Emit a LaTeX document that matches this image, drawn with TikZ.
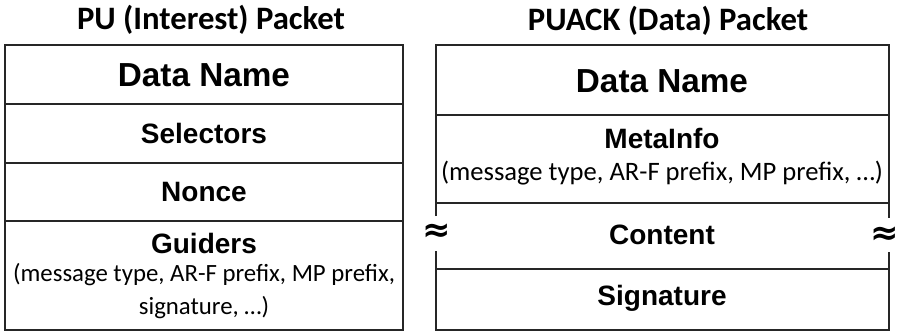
\documentclass[tikz,border=0pt]{standalone}
\usepackage{fontspec}
\setmainfont{Liberation Sans}
\newfontfamily\calib{Carlito}
\newfontfamily\dejavu{DejaVu Sans}
\begin{document}
\begin{tikzpicture}[x=1pt,y=-1pt,
  frame/.style={draw=black!85,line width=1.5pt},
  title/.style={font=\calib\bfseries\fontsize{32.7}{36}\selectfont,inner sep=0pt},
  field/.style={font=\bfseries\fontsize{28}{32}\selectfont,inner sep=0pt},
  bigfield/.style={font=\bfseries\fontsize{33.3}{36}\selectfont,inner sep=0pt},
  note/.style={font=\calib\fontsize{24.8}{28}\selectfont,inner sep=0pt},
  bignote/.style={font=\calib\fontsize{26.6}{30}\selectfont,inner sep=0pt},
  wavy/.style={font=\dejavu\bfseries\fontsize{34}{38}\selectfont,inner sep=0pt}]
\useasboundingbox (0,0) rectangle (899,332);

% ---- PU (Interest) packet ----
\node[title] (t1) at (211,20) {PU (Interest) Packet};
\draw[frame] (5,45) rectangle (403,330);
\draw[frame] (5,104) -- (403,104);
\draw[frame] (5,163) -- (403,163);
\draw[frame] (5,221) -- (403,221);
\node[bigfield] (dn1) at (204,75) {Data Name};
\node[field] (sel) at (204,133) {Selectors};
\node[field] (non) at (204,192) {Nonce};
\node[field] (gui) at (204,243) {Guiders};
\node[note] (g1) at (204,275) {(message type, AR-F prefix, MP prefix,};
\node[note] (g2) at (204,308) {signature, …)};

% ---- PUACK (Data) packet ----
\node[title] (t2) at (668,21) {PUACK (Data) Packet};
\draw[frame] (436,216) -- (436,45) -- (889,45) -- (889,218);
\draw[frame] (436,251) -- (436,330) -- (889,330) -- (889,252);
\draw[frame] (436,115) -- (889,115);
\draw[frame] (436,203) -- (889,203);
\draw[frame] (436,269) -- (889,269);
\node[bigfield] (dn2) at (662,81) {Data Name};
\node[field] (meta) at (662,138) {MetaInfo};
\node[bignote] (m1) at (662,173) {(message type, AR-F prefix, MP prefix, …)};
\node[field] (con) at (662,235) {Content};
\node[field] (sig) at (662,298) {Signature};
\node[wavy] (w1) at (437,233) {≈};
\node[wavy] (w2) at (885,236) {≈};
\end{tikzpicture}
\end{document}
